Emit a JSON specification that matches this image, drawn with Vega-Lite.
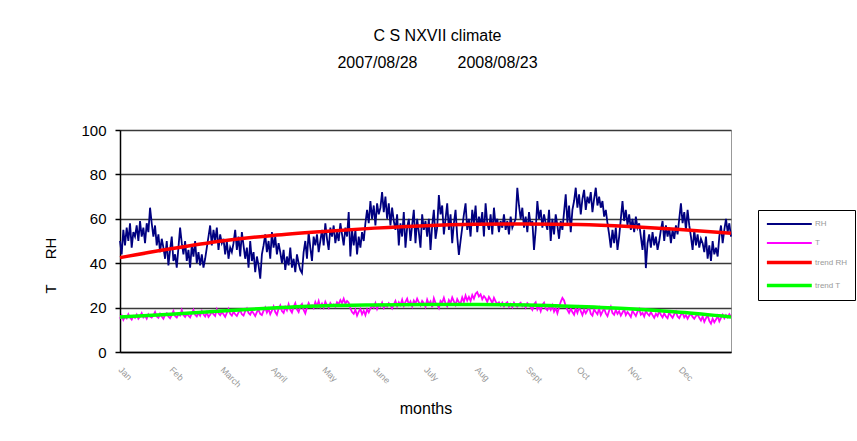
{
"$schema": "https://vega.github.io/schema/vega-lite/v6.json",
"width": 611, "height": 222,
"autosize": "none",
"padding": {"left": 120, "top": 130, "right": 126, "bottom": 89},
"background": "white",
"title": {"text": "C S NXVII climate", "subtitle": "2007/08/28\u00a0\u00a0\u00a0\u00a0\u00a0\u00a0\u00a0\u00a0\u00a02008/08/23", "anchor": "middle", "frame": "group", "dx": 12, "offset": 52, "fontSize": 16, "fontWeight": "normal", "subtitleFontSize": 16, "subtitlePadding": 11, "color": "black", "subtitleColor": "black", "font": "Liberation Sans", "subtitleFont": "Liberation Sans"},
"config": {"font": "Liberation Sans", "view": {"stroke": "#999", "strokeWidth": 1}},
"datasets": {
"obs": [
{"d":0,"RH":50,"T":15},{"d":1,"RH":44,"T":16.5},{"d":2,"RH":55,"T":14.5},{"d":3,"RH":48,"T":16},{"d":4,"RH":56,"T":15.2},{"d":5,"RH":50,"T":17},{"d":6,"RH":58,"T":15.5},{"d":7,"RH":47,"T":14.6},{"d":8,"RH":54,"T":16.2},{"d":9,"RH":52,"T":15.4},
{"d":10,"RH":57,"T":16.8},{"d":11,"RH":50,"T":15},{"d":12,"RH":59,"T":16},{"d":13,"RH":52,"T":17.5},{"d":14,"RH":56,"T":15.6},{"d":15,"RH":49,"T":16.4},{"d":16,"RH":58,"T":15},{"d":17,"RH":54,"T":17},{"d":18,"RH":65,"T":16},{"d":19,"RH":58,"T":15.5},
{"d":20,"RH":52,"T":16.5},{"d":21,"RH":57,"T":18},{"d":22,"RH":48,"T":16},{"d":23,"RH":53,"T":15.4},{"d":24,"RH":45,"T":17.2},{"d":25,"RH":51,"T":16},{"d":26,"RH":47,"T":15},{"d":27,"RH":42,"T":16.8},{"d":28,"RH":50,"T":17.5},{"d":29,"RH":39,"T":16},
{"d":30,"RH":46,"T":15.2},{"d":31,"RH":52,"T":16.6},{"d":32,"RH":41,"T":18.4},{"d":33,"RH":44,"T":16.2},{"d":34,"RH":38,"T":15.5},{"d":35,"RH":47,"T":17},{"d":36,"RH":56,"T":16.4},{"d":37,"RH":49,"T":18.8},{"d":38,"RH":44,"T":16.6},{"d":39,"RH":50,"T":15.8},
{"d":40,"RH":41,"T":17.2},{"d":41,"RH":46,"T":16.4},{"d":42,"RH":38,"T":15.6},{"d":43,"RH":48,"T":17.4},{"d":44,"RH":43,"T":19},{"d":45,"RH":50,"T":16.8},{"d":46,"RH":40,"T":16},{"d":47,"RH":45,"T":17.6},{"d":48,"RH":39,"T":16.4},{"d":49,"RH":44,"T":18.5},
{"d":50,"RH":38,"T":17},{"d":51,"RH":42,"T":16},{"d":52,"RH":47,"T":17.8},{"d":53,"RH":52,"T":15.8},{"d":54,"RH":57,"T":16.8},{"d":55,"RH":48,"T":18.2},{"d":56,"RH":55,"T":17},{"d":57,"RH":50,"T":16.2},{"d":58,"RH":56,"T":19.2},{"d":59,"RH":46,"T":17.4},
{"d":60,"RH":53,"T":16.6},{"d":61,"RH":49,"T":18},{"d":62,"RH":51,"T":17},{"d":63,"RH":44,"T":15.8},{"d":64,"RH":50,"T":17.6},{"d":65,"RH":42,"T":19.4},{"d":66,"RH":47,"T":17.2},{"d":67,"RH":45,"T":16.4},{"d":68,"RH":49,"T":18.2},{"d":69,"RH":55,"T":17},
{"d":70,"RH":46,"T":16.2},{"d":71,"RH":52,"T":17.8},{"d":72,"RH":43,"T":18.8},{"d":73,"RH":54,"T":17},{"d":74,"RH":48,"T":16.4},{"d":75,"RH":42,"T":18.4},{"d":76,"RH":47,"T":19.6},{"d":77,"RH":38,"T":17.6},{"d":78,"RH":50,"T":16.8},{"d":79,"RH":41,"T":18.6},
{"d":80,"RH":45,"T":17.4},{"d":81,"RH":36,"T":16.2},{"d":82,"RH":43,"T":18},{"d":83,"RH":39,"T":19},{"d":84,"RH":33,"T":17.2},{"d":85,"RH":44,"T":16.6},{"d":86,"RH":48,"T":18.6},{"d":87,"RH":53,"T":20},{"d":88,"RH":45,"T":17.8},{"d":89,"RH":50,"T":19.4},
{"d":90,"RH":42,"T":17},{"d":91,"RH":54,"T":18.6},{"d":92,"RH":47,"T":20.5},{"d":93,"RH":52,"T":18},{"d":94,"RH":44,"T":16.8},{"d":95,"RH":49,"T":19.6},{"d":96,"RH":45,"T":21},{"d":97,"RH":40,"T":18.4},{"d":98,"RH":46,"T":17.6},{"d":99,"RH":37,"T":20.2},
{"d":100,"RH":43,"T":18.8},{"d":101,"RH":39,"T":21.5},{"d":102,"RH":47,"T":19},{"d":103,"RH":38,"T":17.8},{"d":104,"RH":42,"T":20.4},{"d":105,"RH":36,"T":22},{"d":106,"RH":44,"T":19.2},{"d":107,"RH":40,"T":18},{"d":108,"RH":37,"T":20.6},{"d":109,"RH":35.6,"T":21.6},
{"d":110,"RH":45,"T":19},{"d":111,"RH":50,"T":17.4},{"d":112,"RH":42,"T":20},{"d":113,"RH":54,"T":22},{"d":114,"RH":47,"T":20.4},{"d":115,"RH":41,"T":21},{"d":116,"RH":52,"T":19.8},{"d":117,"RH":48,"T":22.5},{"d":118,"RH":53,"T":20.6},{"d":119,"RH":45,"T":23},
{"d":120,"RH":50,"T":20.2},{"d":121,"RH":55,"T":21.8},{"d":122,"RH":48,"T":20},{"d":123,"RH":58,"T":22.6},{"d":124,"RH":51,"T":21},{"d":125,"RH":46,"T":19.8},{"d":126,"RH":56,"T":22},{"d":127,"RH":52,"T":20.8},{"d":128,"RH":57,"T":21.4},{"d":129,"RH":49,"T":20.4},
{"d":130,"RH":54,"T":22.4},{"d":131,"RH":50,"T":21.6},{"d":132,"RH":58,"T":23.4},{"d":133,"RH":53,"T":22},{"d":134,"RH":48,"T":24},{"d":135,"RH":56,"T":21.8},{"d":136,"RH":52,"T":23},{"d":137,"RH":63,"T":22.2},{"d":138,"RH":43,"T":19.6},{"d":139,"RH":55,"T":18},
{"d":140,"RH":48,"T":17.2},{"d":141,"RH":55,"T":19},{"d":142,"RH":44,"T":16.4},{"d":143,"RH":52,"T":18.2},{"d":144,"RH":47,"T":19.4},{"d":145,"RH":54,"T":17},{"d":146,"RH":50,"T":18.6},{"d":147,"RH":58,"T":16.6},{"d":148,"RH":64,"T":19.2},{"d":149,"RH":58,"T":17.8},
{"d":150,"RH":68,"T":19.6},{"d":151,"RH":60,"T":21},{"d":152,"RH":66,"T":20},{"d":153,"RH":57,"T":22},{"d":154,"RH":67,"T":19.4},{"d":155,"RH":62,"T":21.2},{"d":156,"RH":65,"T":20.4},{"d":157,"RH":72,"T":22.2},{"d":158,"RH":63,"T":19.8},{"d":159,"RH":70,"T":21},
{"d":160,"RH":60,"T":20.4},{"d":161,"RH":67,"T":22},{"d":162,"RH":57,"T":21},{"d":163,"RH":65,"T":19.6},{"d":164,"RH":59,"T":21.4},{"d":165,"RH":55,"T":23},{"d":166,"RH":62,"T":20.6},{"d":167,"RH":48,"T":22.4},{"d":168,"RH":58,"T":21.2},{"d":169,"RH":52,"T":23.6},
{"d":170,"RH":63,"T":20.8},{"d":171,"RH":47,"T":22.6},{"d":172,"RH":56,"T":24},{"d":173,"RH":60,"T":21.4},{"d":174,"RH":50,"T":22.8},{"d":175,"RH":57,"T":20.6},{"d":176,"RH":64,"T":23.2},{"d":177,"RH":49,"T":21.8},{"d":178,"RH":60,"T":24},{"d":179,"RH":54,"T":22.4},
{"d":180,"RH":47,"T":21},{"d":181,"RH":62,"T":23},{"d":182,"RH":55,"T":22},{"d":183,"RH":59,"T":20.4},{"d":184,"RH":52,"T":23.6},{"d":185,"RH":60,"T":21.6},{"d":186,"RH":46,"T":22.8},{"d":187,"RH":57,"T":20.2},{"d":188,"RH":64,"T":24.2},{"d":189,"RH":51,"T":22},
{"d":190,"RH":56,"T":21.4},{"d":191,"RH":70.7,"T":19.8},{"d":192,"RH":62,"T":23},{"d":193,"RH":66,"T":22.2},{"d":194,"RH":53,"T":24.4},{"d":195,"RH":60,"T":21.8},{"d":196,"RH":67,"T":20.6},{"d":197,"RH":55,"T":23.4},{"d":198,"RH":62,"T":22},{"d":199,"RH":49,"T":24.6},
{"d":200,"RH":58,"T":22.8},{"d":201,"RH":64,"T":21.2},{"d":202,"RH":52,"T":23.8},{"d":203,"RH":43.7,"T":22.4},{"d":204,"RH":50,"T":21.8},{"d":205,"RH":56,"T":24.6},{"d":206,"RH":62,"T":22.6},{"d":207,"RH":67,"T":25.4},{"d":208,"RH":55,"T":23.2},{"d":209,"RH":60,"T":24.8},
{"d":210,"RH":52,"T":23},{"d":211,"RH":64,"T":25.6},{"d":212,"RH":58,"T":24},{"d":213,"RH":66,"T":26.2},{"d":214,"RH":54,"T":27},{"d":215,"RH":61,"T":25},{"d":216,"RH":57,"T":26},{"d":217,"RH":63,"T":23.8},{"d":218,"RH":52,"T":25.2},{"d":219,"RH":67,"T":24.2},
{"d":220,"RH":58,"T":22.6},{"d":221,"RH":55,"T":24.8},{"d":222,"RH":62,"T":23.6},{"d":223,"RH":53,"T":22},{"d":224,"RH":65,"T":24.4},{"d":225,"RH":57,"T":22.8},{"d":226,"RH":60,"T":21.6},{"d":227,"RH":54,"T":22.4},{"d":228,"RH":59,"T":21},{"d":229,"RH":56,"T":22.2},
{"d":230,"RH":62,"T":20.6},{"d":231,"RH":55,"T":21.8},{"d":232,"RH":59,"T":22.4},{"d":233,"RH":53,"T":20.4},{"d":234,"RH":61,"T":21.6},{"d":235,"RH":56,"T":20.2},{"d":236,"RH":58,"T":22.2},{"d":237,"RH":60,"T":21},{"d":238,"RH":74,"T":20.4},{"d":239,"RH":66,"T":21.6},
{"d":240,"RH":60,"T":22.2},{"d":241,"RH":65,"T":20.6},{"d":242,"RH":56,"T":21.4},{"d":243,"RH":61,"T":20},{"d":244,"RH":54,"T":22},{"d":245,"RH":63,"T":21.2},{"d":246,"RH":57,"T":20.2},{"d":247,"RH":59,"T":19},{"d":248,"RH":46,"T":21.4},{"d":249,"RH":55,"T":22.4},
{"d":250,"RH":68,"T":19.2},{"d":251,"RH":60,"T":20.6},{"d":252,"RH":64,"T":18.4},{"d":253,"RH":56,"T":21.2},{"d":254,"RH":62,"T":22.2},{"d":255,"RH":58,"T":19.6},{"d":256,"RH":55,"T":18.8},{"d":257,"RH":64,"T":20.4},{"d":258,"RH":50,"T":19},{"d":259,"RH":60,"T":21},
{"d":260,"RH":53,"T":18.2},{"d":261,"RH":62,"T":19.8},{"d":262,"RH":57,"T":17.4},{"d":263,"RH":51,"T":20.2},{"d":264,"RH":59,"T":22.6},{"d":265,"RH":55,"T":24.4},{"d":266,"RH":63,"T":23.2},{"d":267,"RH":71,"T":20.6},{"d":268,"RH":58,"T":19},{"d":269,"RH":66,"T":17.6},
{"d":270,"RH":54,"T":19.4},{"d":271,"RH":64,"T":18},{"d":272,"RH":68,"T":16.8},{"d":273,"RH":74,"T":19.6},{"d":274,"RH":65,"T":17.6},{"d":275,"RH":71,"T":20.2},{"d":276,"RH":62,"T":18.4},{"d":277,"RH":69,"T":16.6},{"d":278,"RH":73,"T":19},{"d":279,"RH":64,"T":17.4},
{"d":280,"RH":70,"T":18.8},{"d":281,"RH":67,"T":20.2},{"d":282,"RH":72,"T":17.2},{"d":283,"RH":63,"T":16.4},{"d":284,"RH":69,"T":19.2},{"d":285,"RH":74,"T":18},{"d":286,"RH":66,"T":17},{"d":287,"RH":70,"T":19.6},{"d":288,"RH":65,"T":16.6},{"d":289,"RH":68,"T":18.2},
{"d":290,"RH":61,"T":19.6},{"d":291,"RH":64,"T":17.4},{"d":292,"RH":58,"T":16.2},{"d":293,"RH":53,"T":18.6},{"d":294,"RH":47,"T":20.4},{"d":295,"RH":55,"T":17.6},{"d":296,"RH":49,"T":16.8},{"d":297,"RH":56,"T":19},{"d":298,"RH":46,"T":17.2},{"d":299,"RH":52,"T":18.4},
{"d":300,"RH":60,"T":16.4},{"d":301,"RH":68,"T":17.8},{"d":302,"RH":59,"T":19.2},{"d":303,"RH":64,"T":16.6},{"d":304,"RH":57,"T":18},{"d":305,"RH":62,"T":17},{"d":306,"RH":55,"T":15.8},{"d":307,"RH":60,"T":18.6},{"d":308,"RH":54,"T":17.4},{"d":309,"RH":61,"T":16.2},
{"d":310,"RH":56,"T":18.2},{"d":311,"RH":58,"T":19.4},{"d":312,"RH":52,"T":16.8},{"d":313,"RH":46,"T":17.6},{"d":314,"RH":55,"T":16},{"d":315,"RH":37.8,"T":18.4},{"d":316,"RH":49,"T":17.2},{"d":317,"RH":53,"T":16.4},{"d":318,"RH":47,"T":18},{"d":319,"RH":54,"T":16.6},
{"d":320,"RH":48,"T":15.4},{"d":321,"RH":52,"T":17.2},{"d":322,"RH":46,"T":16.2},{"d":323,"RH":50,"T":18.4},{"d":324,"RH":55,"T":16.8},{"d":325,"RH":59,"T":15.6},{"d":326,"RH":50,"T":17.4},{"d":327,"RH":57,"T":16},{"d":328,"RH":52,"T":15.2},{"d":329,"RH":56,"T":17.8},
{"d":330,"RH":49,"T":16.4},{"d":331,"RH":55,"T":15.4},{"d":332,"RH":51,"T":17},{"d":333,"RH":57,"T":18.2},{"d":334,"RH":53,"T":16},{"d":335,"RH":60,"T":15.2},{"d":336,"RH":67,"T":16.8},{"d":337,"RH":58,"T":17.6},{"d":338,"RH":63,"T":15.6},{"d":339,"RH":55,"T":16.6},
{"d":340,"RH":64,"T":15},{"d":341,"RH":57,"T":16.4},{"d":342,"RH":52,"T":17.2},{"d":343,"RH":46,"T":15.8},{"d":344,"RH":55,"T":15},{"d":345,"RH":48,"T":16.2},{"d":346,"RH":53,"T":17},{"d":347,"RH":47,"T":15.4},{"d":348,"RH":51,"T":14.2},{"d":349,"RH":49,"T":16},
{"d":350,"RH":45,"T":13.6},{"d":351,"RH":52,"T":15.2},{"d":352,"RH":42,"T":16.6},{"d":353,"RH":48,"T":14},{"d":354,"RH":41,"T":12.8},{"d":355,"RH":50,"T":15},{"d":356,"RH":44,"T":13.4},{"d":357,"RH":47,"T":14.6},{"d":358,"RH":43,"T":16.2},{"d":359,"RH":52,"T":13.8},
{"d":360,"RH":57,"T":15.4},{"d":361,"RH":49,"T":16.8},{"d":362,"RH":55,"T":15.2},{"d":363,"RH":60,"T":16.6},{"d":364,"RH":54,"T":15.6},{"d":365,"RH":58,"T":17},{"d":366,"RH":52,"T":16}
],
"trend": [
{"d":0,"trend RH":42.5,"trend T":15.8},
{"d":30.5,"trend RH":46.5,"trend T":17.0},
{"d":61,"trend RH":50,"trend T":18.5},
{"d":91.5,"trend RH":52.5,"trend T":19.8},
{"d":122,"trend RH":54.3,"trend T":20.8},
{"d":152.5,"trend RH":55.8,"trend T":21.2},
{"d":183,"trend RH":56.9,"trend T":21.4},
{"d":213.5,"trend RH":57.5,"trend T":21.4},
{"d":244,"trend RH":57.7,"trend T":21.2},
{"d":274.5,"trend RH":57.4,"trend T":20.5},
{"d":305,"trend RH":56.5,"trend T":19.5},
{"d":335.5,"trend RH":55.2,"trend T":17.9},
{"d":366,"trend RH":53.5,"trend T":15.8}
]
},
"encoding": {
"x": {"field": "d", "type": "quantitative", "scale": {"domain": [0, 366], "nice": false, "zero": false},
 "axis": {"values": [1.5, 32, 62.5, 93, 123.5, 154, 184.5, 215, 245.5, 276, 306.5, 337],
  "labelExpr": "['Jan','Feb','March','April','May','June','July','Aug','Sept','Oct','Nov','Dec'][floor(datum.value/30.5)]",
  "labelAngle": 45, "labelAlign": "left", "labelBaseline": "top", "labelColor": "#999", "labelFontSize": 9,
  "labelPadding": 13, "labelOverlap": false, "labelFlush": false, "ticks": false, "grid": false,
  "domainColor": "black", "domainWidth": 1.5,
  "title": "months", "titleFontSize": 16, "titleFontWeight": "normal", "titleColor": "black", "titleY": 61, "titleBaseline": "alphabetic"}},
"y": {"field": "val", "type": "quantitative", "scale": {"domain": [0, 100], "nice": false},
 "axis": {"values": [0, 20, 40, 60, 80, 100], "grid": true, "gridColor": "#3a3a3a", "gridWidth": 1.5,
  "domainColor": "black", "domainWidth": 1.5, "tickColor": "black", "tickSize": 5, "tickWidth": 1.5,
  "labelFontSize": 15, "labelColor": "black", "labelPadding": 9,
  "title": "T\u00a0\u00a0\u00a0\u00a0\u00a0\u00a0RH", "titleFontSize": 15, "titleFontWeight": "normal", "titleColor": "black",
  "titleX": -70, "titleY": 135, "titleAngle": -90, "titleAlign": "center", "titleBaseline": "middle"}},
"color": {"field": "key", "type": "nominal",
 "scale": {"domain": ["RH", "T", "trend RH", "trend T"], "range": ["#000080", "#FF00FF", "#FF0000", "#00FF00"]},
 "legend": {"title": null, "orient": "none", "legendX": 638, "legendY": 80, "symbolType": "M-1,0H7", "symbolSize": 126,
  "labelFontSize": 8, "labelColor": "#999", "strokeColor": "black", "fillColor": "white", "padding": 7, "rowPadding": 8, "labelOffset": 35}},
"strokeWidth": {"field": "key", "type": "nominal",
 "scale": {"type": "ordinal", "domain": ["RH", "T", "trend RH", "trend T"], "range": [1.8, 1.8, 3.5, 3.5]}}
},
"layer": [
{"data": {"name": "obs"}, "transform": [{"fold": ["RH", "T"], "as": ["key", "val"]}], "mark": {"type": "line"}},
{"data": {"name": "trend"}, "transform": [{"fold": ["trend RH", "trend T"], "as": ["key", "val"]}], "mark": {"type": "line", "interpolate": "monotone"}}
]
}
